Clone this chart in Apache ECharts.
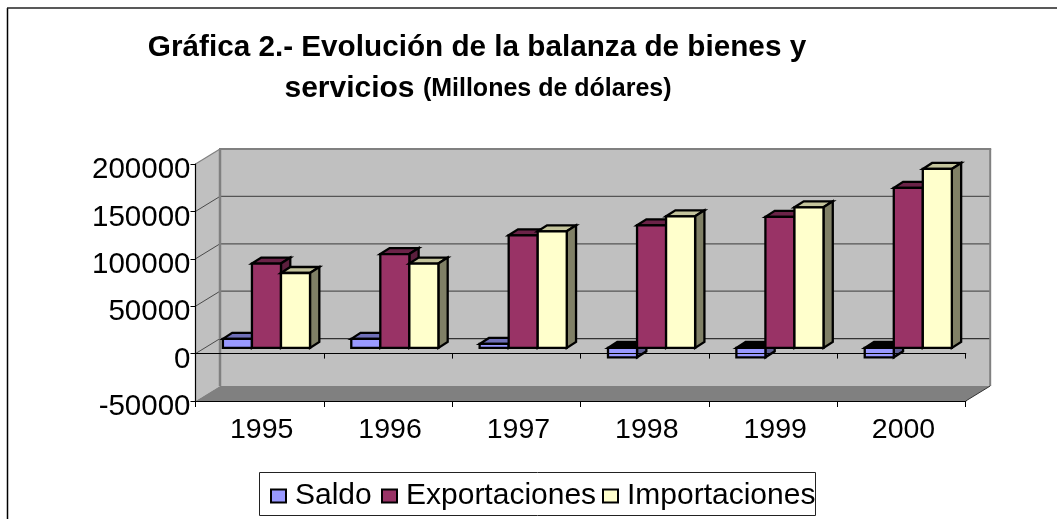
<!DOCTYPE html>
<html>
<head>
<meta charset="utf-8">
<style>html,body{margin:0;padding:0;background:#fff}#c{width:1057px;height:519px}</style>
<script src="https://cdn.jsdelivr.net/npm/echarts@6/dist/echarts.min.js"></script>
</head>
<body>
<div id="c"></div>
<script>
const years = ['1995','1996','1997','1998','1999','2000'];
const saldo = [9500, 9500, 4200, -9900, -9900, -9900];
const exportaciones = [89000, 99000, 118800, 129300, 138200, 168800];
const importaciones = [79000, 89000, 123000, 138800, 148300, 188800];
const yTicks = [-50000, 0, 50000, 100000, 150000, 200000];
const seriesNames = ['Saldo', 'Exportaciones', 'Importaciones'];
const titleLine1 = 'Gráfica 2.- Evolución de la balanza de bienes y';

const FONT = 'Liberation Sans';
const WALL_DX = 24.5, WALL_DY = 15;
const BAR_DX = 9.3, BAR_DY = 5.7;

function poly(points, fill, stroke, lw, z2) {
  return {type:'polygon', z2:z2||0, shape:{points},
    style:{fill:fill||'none', stroke:stroke||'none', lineWidth:lw||0}};
}
function seg(a, b, color, lw, z2) {
  return {type:'line', z2:z2||0, shape:{x1:a[0],y1:a[1],x2:b[0],y2:b[1]},
    style:{stroke:color, lineWidth:lw, fill:'none'}};
}

function renderWalls(params, api) {
  const bw = api.size([1,0])[0];
  const L = api.coord([0,0])[0] - bw/2;
  const R = L + bw*years.length;
  const T = api.coord([0,yTicks[yTicks.length-1]])[1];
  const B = api.coord([0,yTicks[0]])[1];
  const c = [];
  c.push(poly([[L,T],[L+WALL_DX,T-WALL_DY],[L+WALL_DX,B-WALL_DY],[L,B]], '#c0c0c0'));
  c.push(poly([[L+WALL_DX,T-WALL_DY],[R+WALL_DX,T-WALL_DY],[R+WALL_DX,B-WALL_DY],[L+WALL_DX,B-WALL_DY]], '#c0c0c0'));
  c.push(poly([[L,B],[R,B],[R+WALL_DX,B-WALL_DY],[L+WALL_DX,B-WALL_DY]], '#808080'));
  yTicks.slice(1,-1).forEach(v => {
    const y = api.coord([0,v])[1];
    c.push(seg([L,y],[L+WALL_DX,y-WALL_DY],'#4a4a4a',1,1));
    c.push(seg([L+WALL_DX,y-WALL_DY],[R+WALL_DX,y-WALL_DY], v===0?'#333':'#555',v===0?1.4:1.2,1));
  });
  c.push(seg([L,T],[L+WALL_DX,T-WALL_DY],'#808080',1.2,2));
  c.push(seg([L+WALL_DX,B-WALL_DY],[L+WALL_DX,T-WALL_DY],'#808080',2.5,2));
  c.push(seg([L+WALL_DX-1,T-WALL_DY],[R+WALL_DX+1,T-WALL_DY],'#808080',2,2));
  c.push(seg([R+WALL_DX,T-WALL_DY],[R+WALL_DX,B-WALL_DY],'#808080',2,2));
  c.push(seg([R,B],[R+WALL_DX,B-WALL_DY],'#333',1,2));
  return {type:'group', children:c};
}

function barRenderer(idx, front, top, side) {
  return function(params, api) {
    const i = api.value(0), v = api.value(1);
    const bw = api.size([1,0])[0];
    const bandL = api.coord([i,0])[0] - bw/2;
    const w = bw*0.2262;
    const x0 = bandL + bw*0.2135 + idx*w;
    const zeroY = api.coord([i,0])[1] - BAR_DY;
    const valY = api.coord([i,v])[1] - BAR_DY;
    const yT = Math.min(zeroY, valY), yB = Math.max(zeroY, valY);
    const stroke = '#000', lw = 2.3;
    return {type:'group', children:[
      poly([[x0,yT],[x0+BAR_DX,yT-6],[x0+w+BAR_DX,yT-6],[x0+w,yT]], v<0?'#000':top, stroke, lw),
      poly([[x0+w,yT],[x0+w+BAR_DX,yT-6],[x0+w+BAR_DX,yB-6],[x0+w,yB]], side, stroke, lw),
      {type:'rect', shape:{x:x0,y:yT,width:w,height:yB-yT}, style:{fill:front,stroke,lineWidth:lw}}
    ]};
  };
}

const pairs = a => a.map((v,i)=>[i,v]);
const barStyle = [
  {name:seriesNames[0], data:saldo, front:'#9999FF', top:'#6F6FB8', side:'#5F5F94'},
  {name:seriesNames[1], data:exportaciones, front:'#993366', top:'#6B2348', side:'#5C1F3D'},
  {name:seriesNames[2], data:importaciones, front:'#FFFFCC', top:'#C4C49C', side:'#808066'}
];

const legendBase = n => ({
  selectedMode:false, orient:'horizontal', data:[{name:n, icon:'rect'}], padding:0,
  itemWidth:15, itemHeight:13, itemGap:0,
  itemStyle:{borderColor:'#000', borderWidth:2},
  textStyle:{fontFamily:FONT, fontSize:30, color:'#000', padding:[0,0,0,4]}
});

const chart = echarts.init(document.getElementById('c'), null, {renderer:'canvas'});
chart.setOption({
  backgroundColor:'#fff',
  animation:false,
  title:[
    {text:titleLine1, left:477, top:33, textAlign:'center', padding:0,
      textStyle:{fontFamily:FONT,fontSize:29.7,fontWeight:'bold',color:'#000'}},
    {text:'{a|servicios }{b|(Millones de dólares)}', left:478, top:74, textAlign:'center', padding:0,
      textStyle:{rich:{
        a:{fontFamily:FONT,fontSize:30,fontWeight:'bold',color:'#000'},
        b:{fontFamily:FONT,fontSize:25,fontWeight:'bold',color:'#000'}}}}
  ],
  legend:[
    Object.assign(legendBase(seriesNames[0]),{left:270,top:481}),
    Object.assign(legendBase(seriesNames[1]),{left:381,top:481}),
    Object.assign(legendBase(seriesNames[2]),{left:602,top:481})
  ],
  grid:{left:195.5, right:1057-965.7, top:164, bottom:519-401, containLabel:false},
  xAxis:[
    {type:'category', data:years, position:'bottom', z:5,
      axisLine:{onZero:false,lineStyle:{color:'#000',width:1.2}},
      axisTick:{show:true,alignWithLabel:false,length:6,lineStyle:{color:'#000',width:1}},
      axisLabel:{fontFamily:FONT,fontSize:28.5,color:'#000',margin:15,padding:[0,0,0,4]},
      splitLine:{show:false}},
    {type:'category', data:years, position:'bottom', z:6,
      axisLine:{onZero:true,lineStyle:{color:'#000',width:1.2}},
      axisTick:{show:true,alignWithLabel:false,length:5,lineStyle:{color:'#000',width:1}},
      axisLabel:{show:false}, splitLine:{show:false}}
  ],
  yAxis:{type:'value', min:yTicks[0], max:yTicks[yTicks.length-1], interval:50000, z:5,
    axisLine:{show:true,onZero:false,lineStyle:{color:'#000',width:1.2}},
    axisTick:{show:true,length:5,lineStyle:{color:'#000',width:1}},
    axisLabel:{fontFamily:FONT,fontSize:29.5,color:'#000',margin:5,verticalAlign:'top',lineHeight:12,formatter:v=>String(v)},
    splitLine:{show:false}},
  graphic:[
    {type:'line', silent:true, z:100, shape:{x1:7.5,y1:519,x2:7.5,y2:8}, style:{stroke:'#000',lineWidth:1.5}},
    {type:'line', silent:true, z:100, shape:{x1:7,y1:8,x2:1057,y2:8}, style:{stroke:'#222',lineWidth:1.5}},
    {type:'rect', silent:true, z:0, shape:{x:259.5,y:472.5,width:556,height:43},
      style:{fill:'#fff',stroke:'#222',lineWidth:1}}
  ],
  series:[
    {type:'custom', name:'_walls', silent:true, z:1, coordinateSystem:'cartesian2d',
      data:[[0,0]], renderItem:renderWalls, encode:{x:0,y:1}, clip:false}
  ].concat(barStyle.map((s,idx)=>({
    type:'custom', name:s.name, silent:true, z:2+idx, coordinateSystem:'cartesian2d',
    data:pairs(s.data), encode:{x:0,y:1}, clip:false,
    itemStyle:{color:s.front,borderColor:'#000',borderWidth:2},
    renderItem:barRenderer(idx,s.front,s.top,s.side)
  })))
});
</script>
</body>
</html>
